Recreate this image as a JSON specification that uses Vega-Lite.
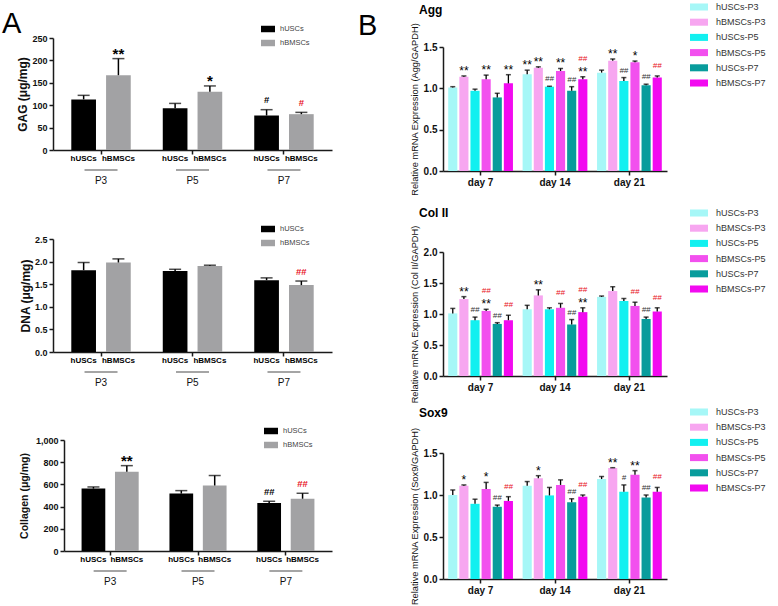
{
"$schema": "https://vega.github.io/schema/vega-lite/v6.json",
"autosize": {"type": "none"},
"padding": {"left": 53, "top": 38, "right": 725, "bottom": 568},
"columns": 2,
"bounds": "flush",
"align": "each",
"spacing": {"row": 64, "column": 111},
"resolve": {"scale": {"x": "independent", "y": "independent", "xOffset": "independent", "color": "independent"}, "axis": {"x": "independent", "y": "independent"}, "legend": {"color": "independent"}},
"datasets": {
"gag": [
{"g":"P3","c":"hUSCs","v":113,"hi":122,"s":"","h":"","r":""},
{"g":"P3","c":"hBMSCs","v":167,"hi":204,"s":"**","h":"","r":""},
{"g":"P5","c":"hUSCs","v":93,"hi":104,"s":"","h":"","r":""},
{"g":"P5","c":"hBMSCs","v":130,"hi":143,"s":"*","h":"","r":""},
{"g":"P7","c":"hUSCs","v":77,"hi":90,"s":"","h":"#","r":""},
{"g":"P7","c":"hBMSCs","v":80,"hi":84,"s":"","h":"","r":"#"}
],
"dna": [
{"g":"P3","c":"hUSCs","v":1.81,"hi":1.98,"s":"","h":"","r":""},
{"g":"P3","c":"hBMSCs","v":1.98,"hi":2.06,"s":"","h":"","r":""},
{"g":"P5","c":"hUSCs","v":1.79,"hi":1.83,"s":"","h":"","r":""},
{"g":"P5","c":"hBMSCs","v":1.9,"hi":1.92,"s":"","h":"","r":""},
{"g":"P7","c":"hUSCs","v":1.59,"hi":1.64,"s":"","h":"","r":""},
{"g":"P7","c":"hBMSCs","v":1.48,"hi":1.57,"s":"","h":"","r":"##"}
],
"col": [
{"g":"P3","c":"hUSCs","v":562,"hi":577,"s":"","h":"","r":""},
{"g":"P3","c":"hBMSCs","v":715,"hi":769,"s":"**","h":"","r":""},
{"g":"P5","c":"hUSCs","v":517,"hi":544,"s":"","h":"","r":""},
{"g":"P5","c":"hBMSCs","v":590,"hi":680,"s":"","h":"","r":""},
{"g":"P7","c":"hUSCs","v":432,"hi":448,"s":"","h":"##","r":""},
{"g":"P7","c":"hBMSCs","v":471,"hi":520,"s":"","h":"","r":"##"}
],
"agg": [
{"d":"day 7","k":"hUSCs-P3","v":1.01,"hi":1.02,"s":"","h":"","r":""},
{"d":"day 7","k":"hBMSCs-P3","v":1.14,"hi":1.15,"s":"**","h":"","r":""},
{"d":"day 7","k":"hUSCs-P5","v":0.97,"hi":0.99,"s":"","h":"","r":""},
{"d":"day 7","k":"hBMSCs-P5","v":1.11,"hi":1.16,"s":"**","h":"","r":""},
{"d":"day 7","k":"hUSCs-P7","v":0.89,"hi":0.94,"s":"","h":"","r":""},
{"d":"day 7","k":"hBMSCs-P7","v":1.06,"hi":1.165,"s":"**","h":"","r":""},
{"d":"day 14","k":"hUSCs-P3","v":1.17,"hi":1.22,"s":"**","h":"","r":""},
{"d":"day 14","k":"hBMSCs-P3","v":1.25,"hi":1.26,"s":"**","h":"","r":""},
{"d":"day 14","k":"hUSCs-P5","v":1.02,"hi":1.025,"s":"","h":"##","r":""},
{"d":"day 14","k":"hBMSCs-P5","v":1.21,"hi":1.24,"s":"**","h":"","r":""},
{"d":"day 14","k":"hUSCs-P7","v":0.97,"hi":1.02,"s":"","h":"##","r":""},
{"d":"day 14","k":"hBMSCs-P7","v":1.11,"hi":1.14,"s":"**","h":"","r":"##"},
{"d":"day 21","k":"hUSCs-P3","v":1.19,"hi":1.22,"s":"","h":"","r":""},
{"d":"day 21","k":"hBMSCs-P3","v":1.335,"hi":1.355,"s":"**","h":"","r":""},
{"d":"day 21","k":"hUSCs-P5","v":1.09,"hi":1.13,"s":"","h":"##","r":""},
{"d":"day 21","k":"hBMSCs-P5","v":1.315,"hi":1.33,"s":"*","h":"","r":""},
{"d":"day 21","k":"hUSCs-P7","v":1.037,"hi":1.05,"s":"","h":"##","r":""},
{"d":"day 21","k":"hBMSCs-P7","v":1.13,"hi":1.15,"s":"","h":"","r":"##"}
],
"col2": [
{"d":"day 7","k":"hUSCs-P3","v":1.01,"hi":1.09,"s":"","h":"","r":""},
{"d":"day 7","k":"hBMSCs-P3","v":1.24,"hi":1.28,"s":"**","h":"","r":""},
{"d":"day 7","k":"hUSCs-P5","v":0.9,"hi":0.95,"s":"","h":"##","r":""},
{"d":"day 7","k":"hBMSCs-P5","v":1.05,"hi":1.076,"s":"**","h":"","r":"##"},
{"d":"day 7","k":"hUSCs-P7","v":0.84,"hi":0.86,"s":"","h":"##","r":""},
{"d":"day 7","k":"hBMSCs-P7","v":0.9,"hi":0.98,"s":"","h":"","r":"##"},
{"d":"day 14","k":"hUSCs-P3","v":1.076,"hi":1.14,"s":"","h":"","r":""},
{"d":"day 14","k":"hBMSCs-P3","v":1.3,"hi":1.39,"s":"**","h":"","r":""},
{"d":"day 14","k":"hUSCs-P5","v":1.076,"hi":1.1,"s":"","h":"","r":""},
{"d":"day 14","k":"hBMSCs-P5","v":1.1,"hi":1.17,"s":"","h":"","r":"##"},
{"d":"day 14","k":"hUSCs-P7","v":0.83,"hi":0.91,"s":"","h":"##","r":""},
{"d":"day 14","k":"hBMSCs-P7","v":1.03,"hi":1.1,"s":"**","h":"","r":"##"},
{"d":"day 21","k":"hUSCs-P3","v":1.276,"hi":1.29,"s":"","h":"","r":""},
{"d":"day 21","k":"hBMSCs-P3","v":1.37,"hi":1.44,"s":"","h":"","r":""},
{"d":"day 21","k":"hUSCs-P5","v":1.21,"hi":1.25,"s":"","h":"","r":""},
{"d":"day 21","k":"hBMSCs-P5","v":1.13,"hi":1.19,"s":"","h":"","r":"##"},
{"d":"day 21","k":"hUSCs-P7","v":0.92,"hi":0.95,"s":"","h":"##","r":""},
{"d":"day 21","k":"hBMSCs-P7","v":1.04,"hi":1.1,"s":"","h":"","r":"##"}
],
"sox": [
{"d":"day 7","k":"hUSCs-P3","v":1.0,"hi":1.06,"s":"","h":"","r":""},
{"d":"day 7","k":"hBMSCs-P3","v":1.11,"hi":1.12,"s":"*","h":"","r":""},
{"d":"day 7","k":"hUSCs-P5","v":0.895,"hi":0.95,"s":"","h":"","r":""},
{"d":"day 7","k":"hBMSCs-P5","v":1.07,"hi":1.15,"s":"*","h":"","r":""},
{"d":"day 7","k":"hUSCs-P7","v":0.86,"hi":0.88,"s":"","h":"##","r":""},
{"d":"day 7","k":"hBMSCs-P7","v":0.93,"hi":0.98,"s":"","h":"","r":"##"},
{"d":"day 14","k":"hUSCs-P3","v":1.11,"hi":1.16,"s":"","h":"","r":""},
{"d":"day 14","k":"hBMSCs-P3","v":1.2,"hi":1.23,"s":"*","h":"","r":""},
{"d":"day 14","k":"hUSCs-P5","v":0.995,"hi":1.09,"s":"","h":"","r":""},
{"d":"day 14","k":"hBMSCs-P5","v":1.12,"hi":1.18,"s":"","h":"","r":""},
{"d":"day 14","k":"hUSCs-P7","v":0.915,"hi":0.955,"s":"","h":"##","r":""},
{"d":"day 14","k":"hBMSCs-P7","v":0.98,"hi":1.0,"s":"","h":"","r":"##"},
{"d":"day 21","k":"hUSCs-P3","v":1.19,"hi":1.22,"s":"","h":"","r":""},
{"d":"day 21","k":"hBMSCs-P3","v":1.32,"hi":1.325,"s":"**","h":"","r":""},
{"d":"day 21","k":"hUSCs-P5","v":1.04,"hi":1.12,"s":"","h":"#","r":""},
{"d":"day 21","k":"hBMSCs-P5","v":1.24,"hi":1.29,"s":"**","h":"","r":""},
{"d":"day 21","k":"hUSCs-P7","v":0.97,"hi":1.0,"s":"","h":"##","r":""},
{"d":"day 21","k":"hBMSCs-P7","v":1.04,"hi":1.09,"s":"","h":"","r":"##"}
]
},
"concat": [
{
"width": 279, "height": 112,
"data": {"name": "gag"},
"encoding": {"x": {"field": "g", "type": "nominal", "title": null, "scale": {"domain": ["P3","P5","P7"], "paddingInner": 0.35, "paddingOuter": 0.2}, "axis": {"labelAngle": 0, "labelPadding": 21, "labelFontSize": 10, "labelFontWeight": "normal", "tickSize": 4}}},
"layer": [
{"mark": {"type": "bar"}, "encoding": {
 "xOffset": {"field": "c", "type": "nominal", "scale": {"domain": ["hUSCs","hBMSCs"], "paddingInner": 0.29, "paddingOuter": 0}},
 "y": {"field": "v", "type": "quantitative", "title": "GAG  (μg/mg)", "scale": {"domain": [0, 250], "nice": false}, "axis": {"values": [0,50,100,150,200,250], "tickCount": 12, "labelOverlap": false, "labelFontSize": 9, "labelFontWeight": "bold", "tickSize": 4, "titleFontSize": 12, "titleFontWeight": "bold", "titlePadding": 2}},
 "color": {"field": "c", "type": "nominal", "scale": {"domain": ["hUSCs","hBMSCs"], "range": ["#000000","#a2a2a4"]}, "legend": {"title": null, "orient": "none", "direction": "vertical", "legendX": 210.5, "legendY": -13.5, "symbolType": "M-1.556,-0.72H1.556V0.72H-1.556Z", "symbolSize": 81, "labelFontSize": 7.5, "labelOffset": 7.5, "rowPadding": 6, "labelColor": "#444444"}}}},
{"mark": {"type": "rule", "strokeWidth": 1.5, "color": "#000000"}, "encoding": {
 "xOffset": {"field": "c", "type": "nominal", "scale": {"domain": ["hUSCs","hBMSCs"], "paddingInner": 0.29, "paddingOuter": 0}},
 "y": {"field": "v", "type": "quantitative", "title": "GAG  (μg/mg)", "scale": {"domain": [0, 250], "nice": false}}, "y2": {"field": "hi"}}},
{"mark": {"type": "tick", "orient": "horizontal", "size": 12, "thickness": 1.5, "color": "#000000"}, "encoding": {
 "xOffset": {"field": "c", "type": "nominal", "scale": {"domain": ["hUSCs","hBMSCs"], "paddingInner": 0.29, "paddingOuter": 0}},
 "y": {"field": "hi", "type": "quantitative", "title": "GAG  (μg/mg)", "scale": {"domain": [0, 250], "nice": false}}}},
{"mark": {"type": "text", "fontSize": 15, "fontWeight": "bold", "baseline": "alphabetic", "dy": 0, "color": "#000000"}, "encoding": {
 "xOffset": {"field": "c", "type": "nominal", "scale": {"domain": ["hUSCs","hBMSCs"], "paddingInner": 0.29, "paddingOuter": 0}},
 "y": {"field": "hi", "type": "quantitative", "title": "GAG  (μg/mg)", "scale": {"domain": [0, 250], "nice": false}}, "text": {"field": "s"}}},
{"mark": {"type": "text", "fontSize": 9.5, "fontWeight": "bold", "baseline": "alphabetic", "dy": -6.5, "color": "#000000"}, "encoding": {
 "xOffset": {"field": "c", "type": "nominal", "scale": {"domain": ["hUSCs","hBMSCs"], "paddingInner": 0.29, "paddingOuter": 0}},
 "y": {"field": "hi", "type": "quantitative", "title": "GAG  (μg/mg)", "scale": {"domain": [0, 250], "nice": false}}, "text": {"field": "h"}}},
{"mark": {"type": "text", "fontSize": 9.5, "fontWeight": "bold", "baseline": "alphabetic", "dy": -6.5, "color": "#e8101c"}, "encoding": {
 "xOffset": {"field": "c", "type": "nominal", "scale": {"domain": ["hUSCs","hBMSCs"], "paddingInner": 0.29, "paddingOuter": 0}},
 "y": {"field": "hi", "type": "quantitative", "title": "GAG  (μg/mg)", "scale": {"domain": [0, 250], "nice": false}}, "text": {"field": "r"}}},
{"mark": {"type": "text", "fontSize": 8, "fontWeight": "bold", "baseline": "middle", "dy": 9, "color": "#000000"}, "encoding": {
 "xOffset": {"field": "c", "type": "nominal", "scale": {"domain": ["hUSCs","hBMSCs"], "paddingInner": 0.29, "paddingOuter": 0}},
 "y": {"datum": 0, "type": "quantitative", "scale": {"domain": [0, 250], "nice": false}}, "text": {"field": "c"}}},
{"transform": [{"filter": "datum.c == 'hUSCs'"}], "mark": {"type": "tick", "orient": "horizontal", "size": 33, "thickness": 1, "yOffset": 20, "color": "#000000"}, "encoding": {
 "y": {"datum": 0, "type": "quantitative", "scale": {"domain": [0, 250], "nice": false}}}},
{"data": {"values": [{"t": "A"}]}, "mark": {"type": "text", "align": "left", "baseline": "alphabetic", "fontSize": 29, "dx": -99, "dy": -5, "color": "#000000"}, "encoding": {
 "x": {"datum": "P3"}, "y": {"datum": 250, "type": "quantitative", "scale": {"domain": [0, 250], "nice": false}}, "text": {"field": "t"}}}
]
},
{
"width": 224, "height": 133,
"data": {"name": "agg"},
"encoding": {"x": {"field": "d", "type": "nominal", "title": null, "scale": {"domain": ["day 7","day 14","day 21"], "paddingInner": 0.13, "paddingOuter": 0.07}, "axis": {"labelAngle": 0, "labelPadding": 2, "labelFontSize": 10, "labelFontWeight": "bold", "tickSize": 4}}},
"layer": [
{"mark": {"type": "bar"}, "encoding": {
 "xOffset": {"field": "k", "type": "nominal", "scale": {"domain": ["hUSCs-P3","hBMSCs-P3","hUSCs-P5","hBMSCs-P5","hUSCs-P7","hBMSCs-P7"], "paddingInner": 0.18, "paddingOuter": 0}},
 "y": {"field": "v", "type": "quantitative", "title": "Relative mRNA Expression (Agg/GAPDH)", "scale": {"domain": [0, 1.5], "nice": false, "range": [133, 9]}, "axis": {"values": [0,0.5,1,1.5], "tickCount": 12, "format": ".1f", "labelFontSize": 10, "labelFontWeight": "bold", "tickSize": 4, "titleFontSize": 9.3, "titleFontWeight": "normal", "titlePadding": 4}},
 "color": {"field": "k", "type": "nominal", "scale": {"domain": ["hUSCs-P3","hBMSCs-P3","hUSCs-P5","hBMSCs-P5","hUSCs-P7","hBMSCs-P7"], "range": ["#a6f7f7","#f7a6f0","#12f0f0","#f250ee","#089c9c","#f20af0"]}, "legend": {"title": null, "orient": "none", "direction": "vertical", "legendX": 251.5, "legendY": -35.5, "symbolType": "M-2,-0.78H2V0.78H-2Z", "symbolSize": 81, "labelFontSize": 9, "labelOffset": 12.5, "rowPadding": 5.2, "labelColor": "#333333"}}}},
{"mark": {"type": "rule", "strokeWidth": 1.3, "color": "#000000"}, "encoding": {
 "xOffset": {"field": "k", "type": "nominal", "scale": {"domain": ["hUSCs-P3","hBMSCs-P3","hUSCs-P5","hBMSCs-P5","hUSCs-P7","hBMSCs-P7"], "paddingInner": 0.18, "paddingOuter": 0}},
 "y": {"field": "v", "type": "quantitative", "title": "Relative mRNA Expression (Agg/GAPDH)", "scale": {"domain": [0, 1.5], "nice": false, "range": [133, 9]}}, "y2": {"field": "hi"}}},
{"mark": {"type": "tick", "orient": "horizontal", "size": 5, "thickness": 1.5, "color": "#000000"}, "encoding": {
 "xOffset": {"field": "k", "type": "nominal", "scale": {"domain": ["hUSCs-P3","hBMSCs-P3","hUSCs-P5","hBMSCs-P5","hUSCs-P7","hBMSCs-P7"], "paddingInner": 0.18, "paddingOuter": 0}},
 "y": {"field": "hi", "type": "quantitative", "title": "Relative mRNA Expression (Agg/GAPDH)", "scale": {"domain": [0, 1.5], "nice": false, "range": [133, 9]}}}},
{"mark": {"type": "text", "fontSize": 12, "baseline": "alphabetic", "dy": -1, "color": "#000000"}, "encoding": {
 "xOffset": {"field": "k", "type": "nominal", "scale": {"domain": ["hUSCs-P3","hBMSCs-P3","hUSCs-P5","hBMSCs-P5","hUSCs-P7","hBMSCs-P7"], "paddingInner": 0.18, "paddingOuter": 0}},
 "y": {"field": "hi", "type": "quantitative", "title": "Relative mRNA Expression (Agg/GAPDH)", "scale": {"domain": [0, 1.5], "nice": false, "range": [133, 9]}}, "text": {"field": "s"}}},
{"mark": {"type": "text", "fontSize": 8, "fontStyle": "italic", "baseline": "alphabetic", "dy": -5, "color": "#333333"}, "encoding": {
 "xOffset": {"field": "k", "type": "nominal", "scale": {"domain": ["hUSCs-P3","hBMSCs-P3","hUSCs-P5","hBMSCs-P5","hUSCs-P7","hBMSCs-P7"], "paddingInner": 0.18, "paddingOuter": 0}},
 "y": {"field": "hi", "type": "quantitative", "title": "Relative mRNA Expression (Agg/GAPDH)", "scale": {"domain": [0, 1.5], "nice": false, "range": [133, 9]}}, "text": {"field": "h"}}},
{"transform": [{"filter": "datum.r != '' && datum.s == '' && datum.h == ''"}], "mark": {"type": "text", "fontSize": 8, "fontStyle": "italic", "baseline": "alphabetic", "dy": -8, "color": "#e8101c"}, "encoding": {
 "xOffset": {"field": "k", "type": "nominal", "scale": {"domain": ["hUSCs-P3","hBMSCs-P3","hUSCs-P5","hBMSCs-P5","hUSCs-P7","hBMSCs-P7"], "paddingInner": 0.18, "paddingOuter": 0}},
 "y": {"field": "hi", "type": "quantitative", "title": "Relative mRNA Expression (Agg/GAPDH)", "scale": {"domain": [0, 1.5], "nice": false, "range": [133, 9]}}, "text": {"field": "r"}}},
{"transform": [{"filter": "datum.r != '' && (datum.s != '' || datum.h != '')"}], "mark": {"type": "text", "fontSize": 8, "fontStyle": "italic", "baseline": "alphabetic", "dy": -16, "color": "#e8101c"}, "encoding": {
 "xOffset": {"field": "k", "type": "nominal", "scale": {"domain": ["hUSCs-P3","hBMSCs-P3","hUSCs-P5","hBMSCs-P5","hUSCs-P7","hBMSCs-P7"], "paddingInner": 0.18, "paddingOuter": 0}},
 "y": {"field": "hi", "type": "quantitative", "title": "Relative mRNA Expression (Agg/GAPDH)", "scale": {"domain": [0, 1.5], "nice": false, "range": [133, 9]}}, "text": {"field": "r"}}},
{"data": {"values": [{"t": "Agg"}]}, "mark": {"type": "text", "align": "left", "baseline": "alphabetic", "fontSize": 12, "fontWeight": "bold", "dx": -61.6, "dy": -33, "color": "#000000"}, "encoding": {
 "x": {"datum": "day 7"}, "y": {"datum": 1.5, "type": "quantitative", "scale": {"domain": [0, 1.5], "nice": false, "range": [133, 9]}}, "text": {"field": "t"}}},
{"data": {"values": [{"t": "B"}]}, "mark": {"type": "text", "align": "left", "baseline": "alphabetic", "fontSize": 29, "dx": -122.6, "dy": -12, "color": "#000000"}, "encoding": {
 "x": {"datum": "day 7"}, "y": {"datum": 1.5, "type": "quantitative", "scale": {"domain": [0, 1.5], "nice": false, "range": [133, 9]}}, "text": {"field": "t"}}}
]
},
{
"width": 279, "height": 117,
"data": {"name": "dna"},
"encoding": {"x": {"field": "g", "type": "nominal", "title": null, "scale": {"domain": ["P3","P5","P7"], "paddingInner": 0.35, "paddingOuter": 0.2}, "axis": {"labelAngle": 0, "labelPadding": 21, "labelFontSize": 10, "labelFontWeight": "normal", "tickSize": 4}}},
"layer": [
{"mark": {"type": "bar"}, "encoding": {
 "xOffset": {"field": "c", "type": "nominal", "scale": {"domain": ["hUSCs","hBMSCs"], "paddingInner": 0.29, "paddingOuter": 0}},
 "y": {"field": "v", "type": "quantitative", "title": "DNA  (μg/mg)", "scale": {"domain": [0, 2.5], "nice": false, "range": [117, 4]}, "axis": {"values": [0,0.5,1,1.5,2,2.5], "tickCount": 12, "labelOverlap": false, "format": ".1f", "labelFontSize": 9, "labelFontWeight": "bold", "tickSize": 4, "titleFontSize": 12, "titleFontWeight": "bold", "titlePadding": 2}},
 "color": {"field": "c", "type": "nominal", "scale": {"domain": ["hUSCs","hBMSCs"], "range": ["#000000","#a2a2a4"]}, "legend": {"title": null, "orient": "none", "direction": "vertical", "legendX": 210.5, "legendY": -10.5, "symbolType": "M-1.556,-0.72H1.556V0.72H-1.556Z", "symbolSize": 81, "labelFontSize": 7.5, "labelOffset": 7.5, "rowPadding": 6, "labelColor": "#444444"}}}},
{"mark": {"type": "rule", "strokeWidth": 1.5, "color": "#000000"}, "encoding": {
 "xOffset": {"field": "c", "type": "nominal", "scale": {"domain": ["hUSCs","hBMSCs"], "paddingInner": 0.29, "paddingOuter": 0}},
 "y": {"field": "v", "type": "quantitative", "title": "DNA  (μg/mg)", "scale": {"domain": [0, 2.5], "nice": false, "range": [117, 4]}}, "y2": {"field": "hi"}}},
{"mark": {"type": "tick", "orient": "horizontal", "size": 12, "thickness": 1.5, "color": "#000000"}, "encoding": {
 "xOffset": {"field": "c", "type": "nominal", "scale": {"domain": ["hUSCs","hBMSCs"], "paddingInner": 0.29, "paddingOuter": 0}},
 "y": {"field": "hi", "type": "quantitative", "title": "DNA  (μg/mg)", "scale": {"domain": [0, 2.5], "nice": false, "range": [117, 4]}}}},
{"mark": {"type": "text", "fontSize": 9.5, "fontWeight": "bold", "baseline": "alphabetic", "dy": -6.5, "color": "#e8101c"}, "encoding": {
 "xOffset": {"field": "c", "type": "nominal", "scale": {"domain": ["hUSCs","hBMSCs"], "paddingInner": 0.29, "paddingOuter": 0}},
 "y": {"field": "hi", "type": "quantitative", "title": "DNA  (μg/mg)", "scale": {"domain": [0, 2.5], "nice": false, "range": [117, 4]}}, "text": {"field": "r"}}},
{"mark": {"type": "text", "fontSize": 8, "fontWeight": "bold", "baseline": "middle", "dy": 9, "color": "#000000"}, "encoding": {
 "xOffset": {"field": "c", "type": "nominal", "scale": {"domain": ["hUSCs","hBMSCs"], "paddingInner": 0.29, "paddingOuter": 0}},
 "y": {"datum": 0, "type": "quantitative", "scale": {"domain": [0, 2.5], "nice": false, "range": [117, 4]}}, "text": {"field": "c"}}},
{"transform": [{"filter": "datum.c == 'hUSCs'"}], "mark": {"type": "tick", "orient": "horizontal", "size": 33, "thickness": 1, "yOffset": 20, "color": "#000000"}, "encoding": {
 "y": {"datum": 0, "type": "quantitative", "scale": {"domain": [0, 2.5], "nice": false, "range": [117, 4]}}}}
]
},
{
"width": 224, "height": 141,
"data": {"name": "col2"},
"encoding": {"x": {"field": "d", "type": "nominal", "title": null, "scale": {"domain": ["day 7","day 14","day 21"], "paddingInner": 0.13, "paddingOuter": 0.07}, "axis": {"labelAngle": 0, "labelPadding": 2, "labelFontSize": 10, "labelFontWeight": "bold", "tickSize": 4}}},
"layer": [
{"mark": {"type": "bar"}, "encoding": {
 "xOffset": {"field": "k", "type": "nominal", "scale": {"domain": ["hUSCs-P3","hBMSCs-P3","hUSCs-P5","hBMSCs-P5","hUSCs-P7","hBMSCs-P7"], "paddingInner": 0.18, "paddingOuter": 0}},
 "y": {"field": "v", "type": "quantitative", "title": "Relative mRNA Expression (Col II/GAPDH)", "scale": {"domain": [0, 2], "nice": false, "range": [141, 17]}, "axis": {"values": [0,0.5,1,1.5,2], "tickCount": 12, "format": ".1f", "labelFontSize": 10, "labelFontWeight": "bold", "tickSize": 4, "titleFontSize": 9.3, "titleFontWeight": "normal", "titlePadding": 4}},
 "color": {"field": "k", "type": "nominal", "scale": {"domain": ["hUSCs-P3","hBMSCs-P3","hUSCs-P5","hBMSCs-P5","hUSCs-P7","hBMSCs-P7"], "range": ["#a6f7f7","#f7a6f0","#12f0f0","#f250ee","#089c9c","#f20af0"]}, "legend": {"title": null, "orient": "none", "direction": "vertical", "legendX": 251.5, "legendY": -26.5, "symbolType": "M-2,-0.78H2V0.78H-2Z", "symbolSize": 81, "labelFontSize": 9, "labelOffset": 12.5, "rowPadding": 5.2, "labelColor": "#333333"}}}},
{"mark": {"type": "rule", "strokeWidth": 1.3, "color": "#000000"}, "encoding": {
 "xOffset": {"field": "k", "type": "nominal", "scale": {"domain": ["hUSCs-P3","hBMSCs-P3","hUSCs-P5","hBMSCs-P5","hUSCs-P7","hBMSCs-P7"], "paddingInner": 0.18, "paddingOuter": 0}},
 "y": {"field": "v", "type": "quantitative", "title": "Relative mRNA Expression (Col II/GAPDH)", "scale": {"domain": [0, 2], "nice": false, "range": [141, 17]}}, "y2": {"field": "hi"}}},
{"mark": {"type": "tick", "orient": "horizontal", "size": 5, "thickness": 1.5, "color": "#000000"}, "encoding": {
 "xOffset": {"field": "k", "type": "nominal", "scale": {"domain": ["hUSCs-P3","hBMSCs-P3","hUSCs-P5","hBMSCs-P5","hUSCs-P7","hBMSCs-P7"], "paddingInner": 0.18, "paddingOuter": 0}},
 "y": {"field": "hi", "type": "quantitative", "title": "Relative mRNA Expression (Col II/GAPDH)", "scale": {"domain": [0, 2], "nice": false, "range": [141, 17]}}}},
{"mark": {"type": "text", "fontSize": 12, "baseline": "alphabetic", "dy": -1, "color": "#000000"}, "encoding": {
 "xOffset": {"field": "k", "type": "nominal", "scale": {"domain": ["hUSCs-P3","hBMSCs-P3","hUSCs-P5","hBMSCs-P5","hUSCs-P7","hBMSCs-P7"], "paddingInner": 0.18, "paddingOuter": 0}},
 "y": {"field": "hi", "type": "quantitative", "title": "Relative mRNA Expression (Col II/GAPDH)", "scale": {"domain": [0, 2], "nice": false, "range": [141, 17]}}, "text": {"field": "s"}}},
{"mark": {"type": "text", "fontSize": 8, "fontStyle": "italic", "baseline": "alphabetic", "dy": -5, "color": "#333333"}, "encoding": {
 "xOffset": {"field": "k", "type": "nominal", "scale": {"domain": ["hUSCs-P3","hBMSCs-P3","hUSCs-P5","hBMSCs-P5","hUSCs-P7","hBMSCs-P7"], "paddingInner": 0.18, "paddingOuter": 0}},
 "y": {"field": "hi", "type": "quantitative", "title": "Relative mRNA Expression (Col II/GAPDH)", "scale": {"domain": [0, 2], "nice": false, "range": [141, 17]}}, "text": {"field": "h"}}},
{"transform": [{"filter": "datum.r != '' && datum.s == '' && datum.h == ''"}], "mark": {"type": "text", "fontSize": 8, "fontStyle": "italic", "baseline": "alphabetic", "dy": -8, "color": "#e8101c"}, "encoding": {
 "xOffset": {"field": "k", "type": "nominal", "scale": {"domain": ["hUSCs-P3","hBMSCs-P3","hUSCs-P5","hBMSCs-P5","hUSCs-P7","hBMSCs-P7"], "paddingInner": 0.18, "paddingOuter": 0}},
 "y": {"field": "hi", "type": "quantitative", "title": "Relative mRNA Expression (Col II/GAPDH)", "scale": {"domain": [0, 2], "nice": false, "range": [141, 17]}}, "text": {"field": "r"}}},
{"transform": [{"filter": "datum.r != '' && (datum.s != '' || datum.h != '')"}], "mark": {"type": "text", "fontSize": 8, "fontStyle": "italic", "baseline": "alphabetic", "dy": -16, "color": "#e8101c"}, "encoding": {
 "xOffset": {"field": "k", "type": "nominal", "scale": {"domain": ["hUSCs-P3","hBMSCs-P3","hUSCs-P5","hBMSCs-P5","hUSCs-P7","hBMSCs-P7"], "paddingInner": 0.18, "paddingOuter": 0}},
 "y": {"field": "hi", "type": "quantitative", "title": "Relative mRNA Expression (Col II/GAPDH)", "scale": {"domain": [0, 2], "nice": false, "range": [141, 17]}}, "text": {"field": "r"}}},
{"data": {"values": [{"t": "Col II"}]}, "mark": {"type": "text", "align": "left", "baseline": "alphabetic", "fontSize": 12, "fontWeight": "bold", "dx": -61.6, "dy": -35, "color": "#000000"}, "encoding": {
 "x": {"datum": "day 7"}, "y": {"datum": 2, "type": "quantitative", "scale": {"domain": [0, 2], "nice": false, "range": [141, 17]}}, "text": {"field": "t"}}}
]
},
{
"width": 279, "height": 111,
"data": {"name": "col"},
"encoding": {"x": {"field": "g", "type": "nominal", "title": null, "scale": {"domain": ["P3","P5","P7"], "paddingInner": 0.35, "paddingOuter": 0.2, "range": [11, 279]}, "axis": {"labelAngle": 0, "labelPadding": 21, "labelFontSize": 10, "labelFontWeight": "normal", "tickSize": 4}}},
"layer": [
{"mark": {"type": "bar"}, "encoding": {
 "xOffset": {"field": "c", "type": "nominal", "scale": {"domain": ["hUSCs","hBMSCs"], "paddingInner": 0.29, "paddingOuter": 0}},
 "y": {"field": "v", "type": "quantitative", "title": "Collagen  (μg/mg)", "scale": {"domain": [0, 1000], "nice": false}, "axis": {"offset": -11, "values": [0,200,400,600,800,1000], "tickCount": 12, "labelOverlap": false, "labelFontSize": 9, "labelFontWeight": "bold", "tickSize": 4, "titleFontSize": 10.5, "titleFontWeight": "bold", "titlePadding": 6}},
 "color": {"field": "c", "type": "nominal", "scale": {"domain": ["hUSCs","hBMSCs"], "range": ["#000000","#a2a2a4"]}, "legend": {"title": null, "orient": "none", "direction": "vertical", "legendX": 213.5, "legendY": -13.5, "symbolType": "M-1.556,-0.72H1.556V0.72H-1.556Z", "symbolSize": 81, "labelFontSize": 7.5, "labelOffset": 7.5, "rowPadding": 6, "labelColor": "#444444"}}}},
{"mark": {"type": "rule", "strokeWidth": 1.5, "color": "#000000"}, "encoding": {
 "xOffset": {"field": "c", "type": "nominal", "scale": {"domain": ["hUSCs","hBMSCs"], "paddingInner": 0.29, "paddingOuter": 0}},
 "y": {"field": "v", "type": "quantitative", "title": "Collagen  (μg/mg)", "scale": {"domain": [0, 1000], "nice": false}}, "y2": {"field": "hi"}}},
{"mark": {"type": "tick", "orient": "horizontal", "size": 12, "thickness": 1.5, "color": "#000000"}, "encoding": {
 "xOffset": {"field": "c", "type": "nominal", "scale": {"domain": ["hUSCs","hBMSCs"], "paddingInner": 0.29, "paddingOuter": 0}},
 "y": {"field": "hi", "type": "quantitative", "title": "Collagen  (μg/mg)", "scale": {"domain": [0, 1000], "nice": false}}}},
{"mark": {"type": "text", "fontSize": 15, "fontWeight": "bold", "baseline": "alphabetic", "dy": 0, "color": "#000000"}, "encoding": {
 "xOffset": {"field": "c", "type": "nominal", "scale": {"domain": ["hUSCs","hBMSCs"], "paddingInner": 0.29, "paddingOuter": 0}},
 "y": {"field": "hi", "type": "quantitative", "title": "Collagen  (μg/mg)", "scale": {"domain": [0, 1000], "nice": false}}, "text": {"field": "s"}}},
{"mark": {"type": "text", "fontSize": 9.5, "fontWeight": "bold", "baseline": "alphabetic", "dy": -6.5, "color": "#000000"}, "encoding": {
 "xOffset": {"field": "c", "type": "nominal", "scale": {"domain": ["hUSCs","hBMSCs"], "paddingInner": 0.29, "paddingOuter": 0}},
 "y": {"field": "hi", "type": "quantitative", "title": "Collagen  (μg/mg)", "scale": {"domain": [0, 1000], "nice": false}}, "text": {"field": "h"}}},
{"mark": {"type": "text", "fontSize": 9.5, "fontWeight": "bold", "baseline": "alphabetic", "dy": -6.5, "color": "#e8101c"}, "encoding": {
 "xOffset": {"field": "c", "type": "nominal", "scale": {"domain": ["hUSCs","hBMSCs"], "paddingInner": 0.29, "paddingOuter": 0}},
 "y": {"field": "hi", "type": "quantitative", "title": "Collagen  (μg/mg)", "scale": {"domain": [0, 1000], "nice": false}}, "text": {"field": "r"}}},
{"mark": {"type": "text", "fontSize": 8, "fontWeight": "bold", "baseline": "middle", "dy": 9, "color": "#000000"}, "encoding": {
 "xOffset": {"field": "c", "type": "nominal", "scale": {"domain": ["hUSCs","hBMSCs"], "paddingInner": 0.29, "paddingOuter": 0}},
 "y": {"datum": 0, "type": "quantitative", "scale": {"domain": [0, 1000], "nice": false}}, "text": {"field": "c"}}},
{"transform": [{"filter": "datum.c == 'hUSCs'"}], "mark": {"type": "tick", "orient": "horizontal", "size": 33, "thickness": 1, "yOffset": 20, "color": "#000000"}, "encoding": {
 "y": {"datum": 0, "type": "quantitative", "scale": {"domain": [0, 1000], "nice": false}}}}
]
},
{
"width": 224, "height": 139,
"data": {"name": "sox"},
"encoding": {"x": {"field": "d", "type": "nominal", "title": null, "scale": {"domain": ["day 7","day 14","day 21"], "paddingInner": 0.13, "paddingOuter": 0.07}, "axis": {"labelAngle": 0, "labelPadding": 2, "labelFontSize": 10, "labelFontWeight": "bold", "tickSize": 4}}},
"layer": [
{"mark": {"type": "bar"}, "encoding": {
 "xOffset": {"field": "k", "type": "nominal", "scale": {"domain": ["hUSCs-P3","hBMSCs-P3","hUSCs-P5","hBMSCs-P5","hUSCs-P7","hBMSCs-P7"], "paddingInner": 0.18, "paddingOuter": 0}},
 "y": {"field": "v", "type": "quantitative", "title": "Relative mRNA Expression (Sox9/GAPDH)", "scale": {"domain": [0, 1.5], "nice": false, "range": [139, 13]}, "axis": {"values": [0,0.5,1,1.5], "tickCount": 12, "format": ".1f", "labelFontSize": 10, "labelFontWeight": "bold", "tickSize": 4, "titleFontSize": 9.3, "titleFontWeight": "normal", "titlePadding": 4}},
 "color": {"field": "k", "type": "nominal", "scale": {"domain": ["hUSCs-P3","hBMSCs-P3","hUSCs-P5","hBMSCs-P5","hUSCs-P7","hBMSCs-P7"], "range": ["#a6f7f7","#f7a6f0","#12f0f0","#f250ee","#089c9c","#f20af0"]}, "legend": {"title": null, "orient": "none", "direction": "vertical", "legendX": 251.5, "legendY": -32.5, "symbolType": "M-2,-0.78H2V0.78H-2Z", "symbolSize": 81, "labelFontSize": 9, "labelOffset": 12.5, "rowPadding": 5.2, "labelColor": "#333333"}}}},
{"mark": {"type": "rule", "strokeWidth": 1.3, "color": "#000000"}, "encoding": {
 "xOffset": {"field": "k", "type": "nominal", "scale": {"domain": ["hUSCs-P3","hBMSCs-P3","hUSCs-P5","hBMSCs-P5","hUSCs-P7","hBMSCs-P7"], "paddingInner": 0.18, "paddingOuter": 0}},
 "y": {"field": "v", "type": "quantitative", "title": "Relative mRNA Expression (Sox9/GAPDH)", "scale": {"domain": [0, 1.5], "nice": false, "range": [139, 13]}}, "y2": {"field": "hi"}}},
{"mark": {"type": "tick", "orient": "horizontal", "size": 5, "thickness": 1.5, "color": "#000000"}, "encoding": {
 "xOffset": {"field": "k", "type": "nominal", "scale": {"domain": ["hUSCs-P3","hBMSCs-P3","hUSCs-P5","hBMSCs-P5","hUSCs-P7","hBMSCs-P7"], "paddingInner": 0.18, "paddingOuter": 0}},
 "y": {"field": "hi", "type": "quantitative", "title": "Relative mRNA Expression (Sox9/GAPDH)", "scale": {"domain": [0, 1.5], "nice": false, "range": [139, 13]}}}},
{"mark": {"type": "text", "fontSize": 12, "baseline": "alphabetic", "dy": -1, "color": "#000000"}, "encoding": {
 "xOffset": {"field": "k", "type": "nominal", "scale": {"domain": ["hUSCs-P3","hBMSCs-P3","hUSCs-P5","hBMSCs-P5","hUSCs-P7","hBMSCs-P7"], "paddingInner": 0.18, "paddingOuter": 0}},
 "y": {"field": "hi", "type": "quantitative", "title": "Relative mRNA Expression (Sox9/GAPDH)", "scale": {"domain": [0, 1.5], "nice": false, "range": [139, 13]}}, "text": {"field": "s"}}},
{"mark": {"type": "text", "fontSize": 8, "fontStyle": "italic", "baseline": "alphabetic", "dy": -5, "color": "#333333"}, "encoding": {
 "xOffset": {"field": "k", "type": "nominal", "scale": {"domain": ["hUSCs-P3","hBMSCs-P3","hUSCs-P5","hBMSCs-P5","hUSCs-P7","hBMSCs-P7"], "paddingInner": 0.18, "paddingOuter": 0}},
 "y": {"field": "hi", "type": "quantitative", "title": "Relative mRNA Expression (Sox9/GAPDH)", "scale": {"domain": [0, 1.5], "nice": false, "range": [139, 13]}}, "text": {"field": "h"}}},
{"transform": [{"filter": "datum.r != '' && datum.s == '' && datum.h == ''"}], "mark": {"type": "text", "fontSize": 8, "fontStyle": "italic", "baseline": "alphabetic", "dy": -8, "color": "#e8101c"}, "encoding": {
 "xOffset": {"field": "k", "type": "nominal", "scale": {"domain": ["hUSCs-P3","hBMSCs-P3","hUSCs-P5","hBMSCs-P5","hUSCs-P7","hBMSCs-P7"], "paddingInner": 0.18, "paddingOuter": 0}},
 "y": {"field": "hi", "type": "quantitative", "title": "Relative mRNA Expression (Sox9/GAPDH)", "scale": {"domain": [0, 1.5], "nice": false, "range": [139, 13]}}, "text": {"field": "r"}}},
{"data": {"values": [{"t": "Sox9"}]}, "mark": {"type": "text", "align": "left", "baseline": "alphabetic", "fontSize": 12, "fontWeight": "bold", "dx": -61.6, "dy": -36, "color": "#000000"}, "encoding": {
 "x": {"datum": "day 7"}, "y": {"datum": 1.5, "type": "quantitative", "scale": {"domain": [0, 1.5], "nice": false, "range": [139, 13]}}, "text": {"field": "t"}}}
]
}
],
"config": {
 "font": "Liberation Sans",
 "view": {"stroke": null},
 "axis": {"grid": false, "labelOverlap": false, "domainColor": "#1a1a1a", "tickColor": "#1a1a1a", "domainWidth": 1.5, "tickWidth": 1.5, "labelColor": "#111111", "titleColor": "#111111", "labelFont": "Liberation Sans", "titleFont": "Liberation Sans"},
 "legend": {"padding": 0, "symbolStrokeWidth": 0, "labelFont": "Liberation Sans", "symbolOpacity": 1},
 "text": {"font": "Liberation Sans"}
}
}
